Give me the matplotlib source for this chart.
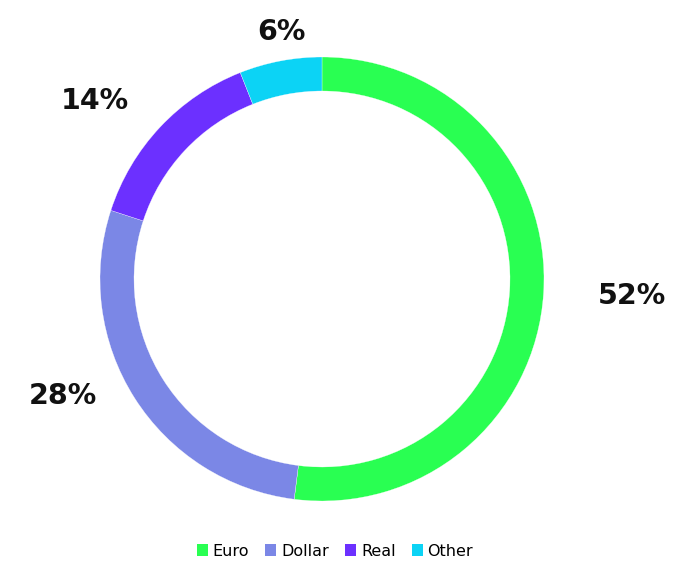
import numpy as np
import matplotlib
matplotlib.use("Agg")
import matplotlib.pyplot as plt
from matplotlib.patches import Patch

# data
labels = ["Euro", "Dollar", "Real", "Other"]
shares = [52, 28, 14, 6]
colors = ["#29FF52", "#7B87E6", "#6C30FF", "#0CD3F5"]

# label placement (pixel offsets from centre)
label_offsets = [(310, -17), (-259, -117), (-227, 178), (-41, 247)]

W, H = 673, 563
CX, CY = 322, H - 279
R = 222
RING = 34

fig = plt.figure(figsize=(W / 100, H / 100), dpi=100)
ax = fig.add_axes([0, 0, 1, 1])
ax.set_xlim(0, W)
ax.set_ylim(0, H)
ax.set_aspect("equal")
ax.axis("off")

ax.pie(shares, colors=colors, startangle=90, counterclock=False,
       radius=R, center=(CX, CY),
       wedgeprops=dict(width=RING, edgecolor="white", linewidth=0.2))
ax.set_xlim(0, W)
ax.set_ylim(0, H)

for s, (dx, dy) in zip(shares, label_offsets):
    ax.text(CX + dx, CY + dy, f"{s}%", ha="center", va="center",
            fontsize=20.5, fontweight="bold", family="DejaVu Sans", color="#111111")

handles = [Patch(facecolor=c, edgecolor="none") for c in colors]
fig.legend(handles, labels, loc="center", bbox_to_anchor=(335 / W, 1 - 551 / H),
           ncol=4, frameon=False, handlelength=0.7, handleheight=0.7,
           handletextpad=0.3, columnspacing=1.0,
           prop={"family": "DejaVu Sans", "size": 11.5})

fig.savefig("out.png", dpi=100)
